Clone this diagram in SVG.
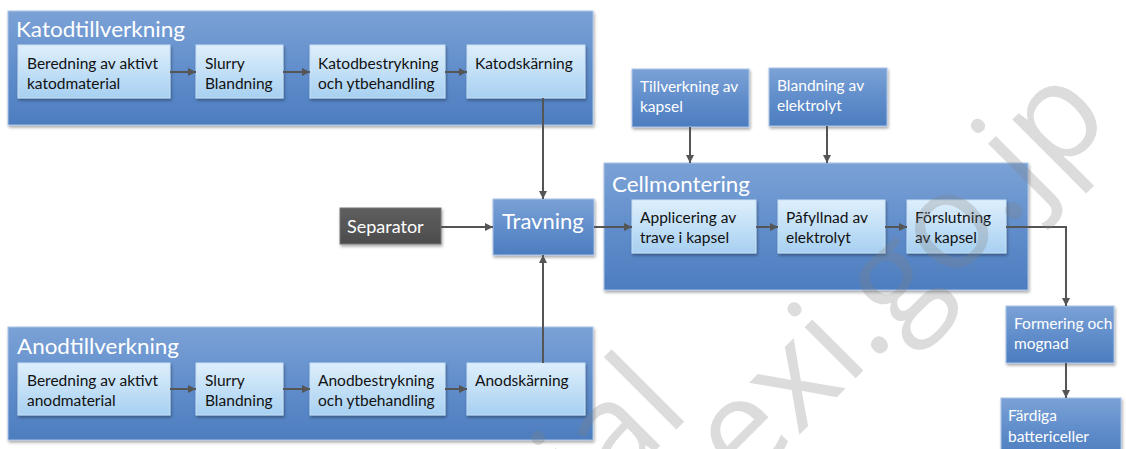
<svg xmlns="http://www.w3.org/2000/svg" width="1126" height="449" viewBox="0 0 1126 449">
  <defs>
    <linearGradient id="panelGrad" x1="0" y1="0" x2="0" y2="1">
      <stop offset="0" stop-color="#7ba2d6"/>
      <stop offset="0.55" stop-color="#5f8cca"/>
      <stop offset="1" stop-color="#4d7dbf"/>
    </linearGradient>
    <linearGradient id="stepGrad" x1="0" y1="0" x2="0" y2="1">
      <stop offset="0" stop-color="#deeffc"/>
      <stop offset="1" stop-color="#a7d0f1"/>
    </linearGradient>
    <linearGradient id="sepGrad" x1="0" y1="0" x2="0" y2="1">
      <stop offset="0" stop-color="#5e5e5e"/>
      <stop offset="1" stop-color="#4c4c4c"/>
    </linearGradient>
    <filter id="shadow" x="-10%" y="-10%" width="130%" height="140%">
      <feDropShadow dx="1" dy="2" stdDeviation="1.5" flood-color="#000" flood-opacity="0.35"/>
    </filter>
    <marker id="arrow" viewBox="0 0 8 8" refX="8" refY="4" markerWidth="8" markerHeight="8" markerUnits="userSpaceOnUse" orient="auto">
      <path d="M0,0 L8,4 L0,8 z" fill="#555"/>
    </marker>
    <style>
      .panel { fill: url(#panelGrad); stroke: #a9c3e6; stroke-width: 1; filter: url(#shadow); }
      .step { fill: url(#stepGrad); stroke: #c6e0f5; stroke-width: 1; filter: url(#shadow); }
      .blue { fill: url(#panelGrad); stroke: #a9c3e6; stroke-width: 1; filter: url(#shadow); }
      .sep { fill: url(#sepGrad); stroke: #777; stroke-width: 1; filter: url(#shadow); }
      text { font-family: "Lato", "Liberation Sans", sans-serif; }
      .title { font-size: 21px; fill: #fff; }
      .dark { font-size: 15.5px; fill: #111; }
      .light { font-size: 15.5px; fill: #fff; }
      .conn { fill: none; stroke: #555; stroke-width: 2; marker-end: url(#arrow); }
      .wm { font-family: "Open Sans", "Noto Sans", sans-serif; font-size: 135px; fill: #808080; fill-opacity: 0.28; }
    </style>
  </defs>

  <rect width="1126" height="449" fill="#fff"/>

  <!-- Cathode manufacturing -->
  <g id="katodtillverkning">
    <rect class="panel" x="8" y="11" width="585" height="114"/>
    <text class="title" x="16" y="37" textLength="169" lengthAdjust="spacingAndGlyphs">Katodtillverkning</text>
  </g>
  <g id="katod-beredning">
    <rect class="step" x="18" y="45" width="152" height="53"/>
    <text class="dark" x="27" y="69">Beredning av aktivt</text>
    <text class="dark" x="27" y="89">katodmaterial</text>
  </g>
  <g id="katod-slurry">
    <rect class="step" x="196" y="45" width="87" height="53"/>
    <text class="dark" x="205" y="69">Slurry</text>
    <text class="dark" x="205" y="89">Blandning</text>
  </g>
  <g id="katod-bestrykning">
    <rect class="step" x="310" y="45" width="135" height="53"/>
    <text class="dark" x="318" y="69">Katodbestrykning</text>
    <text class="dark" x="318" y="89">och ytbehandling</text>
  </g>
  <g id="katod-skarning">
    <rect class="step" x="467" y="45" width="118" height="53"/>
    <text class="dark" x="475" y="69">Katodskärning</text>
  </g>

  <!-- Anode manufacturing -->
  <g id="anodtillverkning">
    <rect class="panel" x="8" y="327" width="585" height="113"/>
    <text class="title" x="17" y="354" textLength="162" lengthAdjust="spacingAndGlyphs">Anodtillverkning</text>
  </g>
  <g id="anod-beredning">
    <rect class="step" x="18" y="363" width="152" height="52"/>
    <text class="dark" x="27" y="386">Beredning av aktivt</text>
    <text class="dark" x="27" y="406">anodmaterial</text>
  </g>
  <g id="anod-slurry">
    <rect class="step" x="196" y="363" width="87" height="52"/>
    <text class="dark" x="205" y="386">Slurry</text>
    <text class="dark" x="205" y="406">Blandning</text>
  </g>
  <g id="anod-bestrykning">
    <rect class="step" x="310" y="363" width="135" height="52"/>
    <text class="dark" x="318" y="386">Anodbestrykning</text>
    <text class="dark" x="318" y="406">och ytbehandling</text>
  </g>
  <g id="anod-skarning">
    <rect class="step" x="467" y="363" width="118" height="52"/>
    <text class="dark" x="475" y="386">Anodskärning</text>
  </g>

  <!-- Separator and stacking -->
  <g id="separator">
    <rect class="sep" x="340" y="208" width="101" height="36"/>
    <text x="347" y="233" font-size="18" fill="#fff">Separator</text>
  </g>
  <g id="travning">
    <rect class="blue" x="493" y="199" width="101" height="56"/>
    <text x="502" y="229" font-size="22" fill="#fff">Travning</text>
  </g>

  <!-- Supplies for cell assembly -->
  <g id="kapsel">
    <rect class="blue" x="632" y="69" width="117" height="58"/>
    <text class="light" x="640" y="92">Tillverkning av</text>
    <text class="light" x="640" y="112">kapsel</text>
  </g>
  <g id="elektrolyt">
    <rect class="blue" x="769" y="68" width="118" height="58"/>
    <text class="light" x="777" y="91">Blandning av</text>
    <text class="light" x="777" y="111">elektrolyt</text>
  </g>

  <!-- Cell assembly -->
  <g id="cellmontering">
    <rect class="panel" x="604" y="163" width="424" height="127"/>
    <text class="title" x="612" y="192" textLength="138" lengthAdjust="spacingAndGlyphs">Cellmontering</text>
  </g>
  <g id="applicering">
    <rect class="step" x="632" y="200" width="124" height="53"/>
    <text class="dark" x="640" y="223">Applicering av</text>
    <text class="dark" x="640" y="243">trave i kapsel</text>
  </g>
  <g id="pafyllnad">
    <rect class="step" x="778" y="200" width="107" height="53"/>
    <text class="dark" x="786" y="223">Påfyllnad av</text>
    <text class="dark" x="786" y="243">elektrolyt</text>
  </g>
  <g id="forslutning">
    <rect class="step" x="907" y="200" width="99" height="53"/>
    <text class="dark" x="915" y="223">Förslutning</text>
    <text class="dark" x="915" y="243">av kapsel</text>
  </g>

  <!-- Finishing -->
  <g id="formering">
    <rect class="blue" x="1006" y="306" width="108" height="57"/>
    <text class="light" x="1014" y="329">Formering och</text>
    <text class="light" x="1014" y="349">mognad</text>
  </g>
  <g id="fardiga">
    <rect class="blue" x="1001" y="398" width="120" height="60"/>
    <text class="light" x="1008" y="421">Färdiga</text>
    <text class="light" x="1008" y="442">battericeller</text>
  </g>

  <!-- Connectors -->
  <g id="connectors">
    <path class="conn" d="M170,72 H196"/>
    <path class="conn" d="M283,72 H310"/>
    <path class="conn" d="M445,72 H467"/>
    <path class="conn" d="M170,389 H196"/>
    <path class="conn" d="M283,389 H310"/>
    <path class="conn" d="M445,389 H467"/>
    <path class="conn" d="M543,98 V199"/>
    <path class="conn" d="M543,363 V255"/>
    <path class="conn" d="M441,227 H493"/>
    <path class="conn" d="M594,227 H632"/>
    <path class="conn" d="M690,127 V163"/>
    <path class="conn" d="M827,126 V163"/>
    <path class="conn" d="M756,227 H778"/>
    <path class="conn" d="M885,227 H907"/>
    <path class="conn" d="M1006,227 H1066 V306"/>
    <path class="conn" d="M1066,363 V398"/>
  </g>

  <!-- Watermark -->
  <g id="watermark">
    <text class="wm" transform="translate(591,515) rotate(-45)">ial</text>
    <text class="wm" transform="translate(744,490) rotate(-45)">exi.go.jp</text>
  </g>
</svg>
